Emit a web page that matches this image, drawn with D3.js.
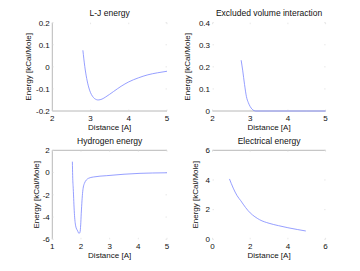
<!DOCTYPE html>
<html>
<head>
<meta charset="utf-8">
<script src="https://cdn.jsdelivr.net/npm/d3@7"></script>
<style>
  body { margin: 0; background: #fff; }
  text { font-family: "Liberation Sans", Arial, sans-serif; fill: #111; }
</style>
</head>
<body>
<div class="chart"></div>
<script>
var svgWidth = 360;
var svgHeight = 271;

// data
var ljDist = [2.8, 2.85, 2.9, 2.95, 3.0, 3.05, 3.1, 3.2, 3.3, 3.4, 3.6, 3.8, 4.0, 4.25, 4.5, 4.75, 5.0];
var ljEnergy = [0.075, 0.001, -0.053, -0.091, -0.117, -0.133, -0.143, -0.15, -0.146, -0.136, -0.112, -0.088, -0.068, -0.05, -0.036, -0.027, -0.02];

var exDist = [2.76, 2.8, 2.85, 2.9, 2.95, 3.0, 3.05, 3.1, 3.15, 3.5, 4.0, 4.5, 5.0];
var exEnergy = [0.23, 0.185, 0.12, 0.065, 0.038, 0.02, 0.008, 0.002, 0, 0, 0, 0, 0];

var hbDist = [1.70, 1.71, 1.73, 1.77, 1.815, 1.885, 1.93, 1.965, 1.99, 2.01, 2.06, 2.12, 2.26, 2.43, 2.9, 3.5, 4.06, 4.5, 5.0];
var hbEnergy = [0.98, -0.28, -1.42, -3.66, -4.8, -5.25, -5.47, -5.37, -4.7, -3.66, -1.72, -0.97, -0.52, -0.40, -0.28, -0.15, -0.07, -0.04, -0.02];

var elDist = [0.9, 1.1, 1.3, 1.5, 1.75, 2.0, 2.25, 2.5, 3.0, 3.5, 4.0, 4.5, 4.95];
var elEnergy = [4.07, 3.45, 2.95, 2.6, 2.15, 1.78, 1.52, 1.32, 1.08, 0.92, 0.78, 0.66, 0.56];

var titles = ["L-J energy", "Excluded volume interaction", "Hydrogen energy", "Electrical energy"];
var xDomains = [[2, 5], [2, 5], [1, 5], [0, 6]];
var yDomains = [[-0.2, 0.2], [0, 0.4], [-6, 2], [0, 6]];
var xTicks = [[2, 3, 4, 5], [2, 3, 4, 5], [1, 2, 3, 4, 5], [0, 2, 4, 6]];
var yTicks = [[-0.2, -0.1, 0, 0.1, 0.2], [0, 0.1, 0.2, 0.3, 0.4], [-6, -4, -2, 0, 2], [0, 2, 4, 6]];
var xLabel = "Distance [A]";
var yLabel = "Energy [kCal/Mole]";

var series = [
  [ljDist, ljEnergy],
  [exDist, exEnergy],
  [hbDist, hbEnergy],
  [elDist, elEnergy]
];

// panel boxes (ylab = x of the rotated y label baseline)
var boxes = [
  {left: 52.3, right: 167, top: 22.7, bottom: 111, ylab: 31, sides: ["left", "bottom"]},
  {left: 212.5, right: 325.6, top: 22.7, bottom: 111, ylab: 190, sides: ["bottom"]},
  {left: 52.3, right: 167, top: 150.3, bottom: 239.3, ylab: 39, sides: ["left", "top"]},
  {left: 212.5, right: 325.6, top: 150.3, bottom: 239.3, ylab: 198, sides: ["top"]}
];

var svg = d3.select(".chart")
  .append("svg")
  .attr("width", svgWidth)
  .attr("height", svgHeight);

boxes.forEach(function(b, i) {
  var x = d3.scaleLinear().domain(xDomains[i]).range([b.left, b.right]);
  var y = d3.scaleLinear().domain(yDomains[i]).range([b.bottom, b.top]);
  var g = svg.append("g");

  // faint frame
  var lines = {
    left: [b.left, b.top, b.left, b.bottom],
    right: [b.right, b.top, b.right, b.bottom],
    top: [b.left, b.top, b.right, b.top],
    bottom: [b.left, b.bottom, b.right, b.bottom]
  };
  b.sides.forEach(function(s) {
    var l = lines[s];
    g.append("line")
      .attr("x1", l[0]).attr("y1", l[1]).attr("x2", l[2]).attr("y2", l[3])
      .attr("stroke", "#b8b8b8")
      .attr("stroke-width", 1);
  });

  // tiny inward tick marks
  xTicks[i].forEach(function(t) {
    [b.top, b.bottom].forEach(function(yy, k) {
      g.append("line")
        .attr("x1", x(t)).attr("x2", x(t))
        .attr("y1", yy).attr("y2", k === 0 ? yy + 1.5 : yy - 1.5)
        .attr("stroke", "#d8d8d8").attr("stroke-width", 0.6);
    });
  });
  yTicks[i].forEach(function(t) {
    [b.left, b.right].forEach(function(xx, k) {
      g.append("line")
        .attr("y1", y(t)).attr("y2", y(t))
        .attr("x1", xx).attr("x2", k === 0 ? xx + 1.5 : xx - 1.5)
        .attr("stroke", "#d8d8d8").attr("stroke-width", 0.6);
    });
  });

  // curve
  var pts = series[i][0].map(function(d, j) { return [d, series[i][1][j]]; });
  g.append("path")
    .datum(pts)
    .attr("fill", "none")
    .attr("stroke", "#7b86ff")
    .attr("stroke-width", 0.8)
    .attr("d", d3.line().x(function(d) { return x(d[0]); }).y(function(d) { return y(d[1]); }).curve(d3.curveMonotoneX));

  // x tick labels
  g.selectAll(".xt")
    .data(xTicks[i])
    .enter()
    .append("text")
    .attr("x", function(d) { return x(d); })
    .attr("y", b.bottom + 9.5)
    .attr("text-anchor", "middle")
    .attr("font-size", "8px")
    .text(function(d) { return d; });

  // y tick labels
  g.selectAll(".yt")
    .data(yTicks[i])
    .enter()
    .append("text")
    .attr("x", b.left - 2.5)
    .attr("y", function(d) { return y(d) + 2.8; })
    .attr("text-anchor", "end")
    .attr("font-size", "8px")
    .text(function(d) { return d; });

  // axis labels + title
  g.append("text")
    .attr("x", (b.left + b.right) / 2)
    .attr("y", b.bottom + 19)
    .attr("text-anchor", "middle")
    .attr("font-size", "8px")
    .text(xLabel);

  g.append("text")
    .attr("transform", "translate(" + b.ylab + "," + ((b.top + b.bottom) / 2) + ") rotate(-90)")
    .attr("text-anchor", "middle")
    .attr("font-size", "8px")
    .text(yLabel);

  g.append("text")
    .attr("x", (b.left + b.right) / 2)
    .attr("y", b.top - 6.5)
    .attr("text-anchor", "middle")
    .attr("font-size", "8.5px")
    .text(titles[i]);
});
</script>
</body>
</html>
